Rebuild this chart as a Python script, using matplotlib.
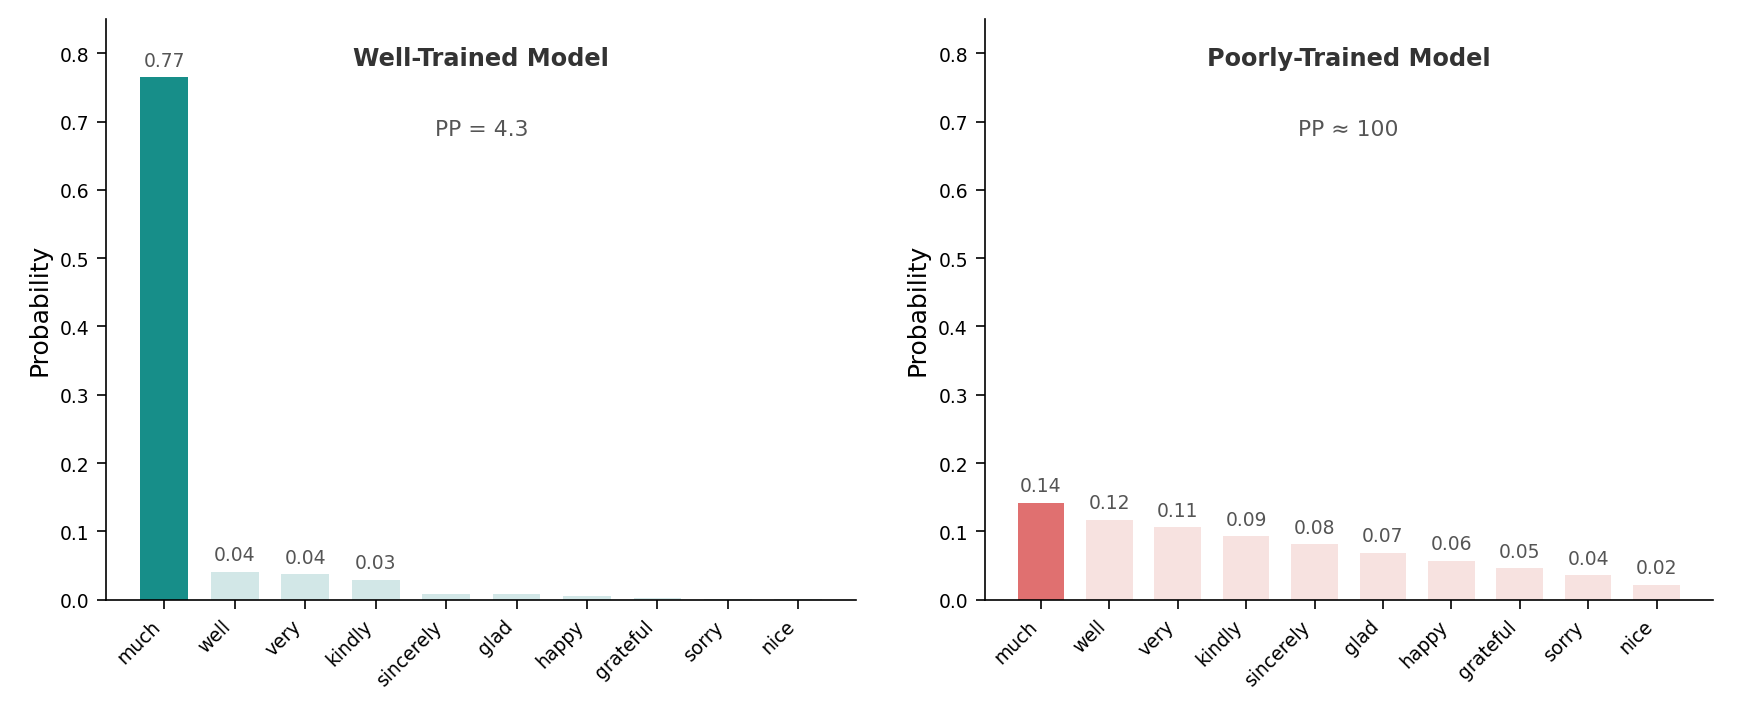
import matplotlib
matplotlib.use("Agg")
import matplotlib.pyplot as plt
import numpy as np

# Candidate next tokens
WORDS = ["much", "well", "very", "kindly", "sincerely", "glad", "happy", "grateful", "sorry", "nice"]

# Probabilities
GOOD_PROBS = [0.765, 0.041, 0.037, 0.029, 0.008, 0.008, 0.005, 0.003, 0.001, 0.0005]
BAD_PROBS = [0.142, 0.117, 0.106, 0.093, 0.081, 0.069, 0.057, 0.046, 0.036, 0.022]

TITLES = ["Well-Trained Model", "Poorly-Trained Model"]
PP_TEXT = ["PP = 4.3", "PP \u2248 100"]

COLORS = {
    "TEAL": "#178E89",
    "TEAL_LIGHT": "#D2E7E7",
    "RED": "#E07070",
    "RED_LIGHT": "#F7E2E0",
}


def draw_panel(ax, probs, main_col, light_col, title, pp):
    x = np.arange(len(WORDS))
    cols = [main_col] + [light_col] * (len(WORDS) - 1)
    ax.bar(x, probs, width=0.68, color=cols, zorder=2)

    # Value labels above bars (skip the tiny ones)
    for xi, p in zip(x, probs):
        if p >= 0.02:
            ax.text(xi, p + 0.011, f"{p:.2f}", ha="center", va="bottom",
                    fontsize=9, color="#555555")

    ax.set_ylim(0, 0.85)
    ax.set_yticks(np.arange(0, 0.81, 0.1))
    ax.set_xticks(x, labels=WORDS, rotation=45, ha="right")
    ax.tick_params(axis="both", labelsize=9, length=4.5)
    ax.set_ylabel("Probability", fontsize=12)
    ax.spines["top"].set_visible(False)
    ax.spines["right"].set_visible(False)

    ax.text(0.5, 0.933, title, transform=ax.transAxes, ha="center", va="center",
            fontsize=11.5, fontweight="bold", color="#333333")
    ax.text(0.5, 0.811, pp, transform=ax.transAxes, ha="center", va="center",
            fontsize=10.5, color="#555555")


def main():
    fig = plt.figure(figsize=(11.7, 4.773), dpi=150)
    ax1 = fig.add_axes([0.0605, 0.161, 0.4275, 0.811])
    ax2 = fig.add_axes([0.561, 0.161, 0.415, 0.811])

    draw_panel(ax1, GOOD_PROBS, COLORS["TEAL"], COLORS["TEAL_LIGHT"], TITLES[0], PP_TEXT[0])
    draw_panel(ax2, BAD_PROBS, COLORS["RED"], COLORS["RED_LIGHT"], TITLES[1], PP_TEXT[1])

    fig.savefig("out.png", dpi=150)


if __name__ == "__main__":
    main()
